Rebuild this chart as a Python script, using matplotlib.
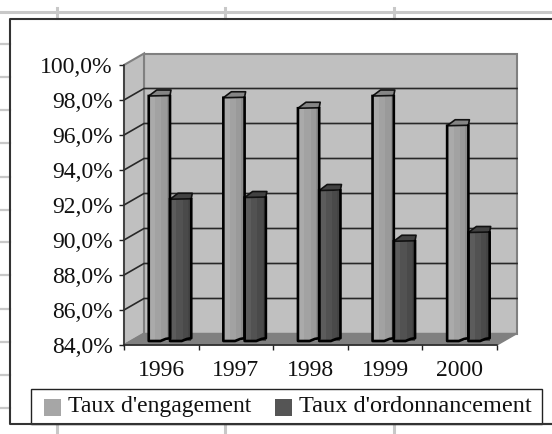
import matplotlib
matplotlib.use('Agg')
import matplotlib.pyplot as plt
from matplotlib.patches import Polygon, Rectangle
from matplotlib.transforms import Affine2D

plt.rcParams['font.family'] = ['Liberation Serif', 'DejaVu Serif']

# data
years = ['1996', '1997', '1998', '1999', '2000']
engagement = [98.0, 97.9, 97.3, 98.0, 96.3]
ordonnancement = [92.1, 92.2, 92.6, 89.7, 90.2]
yticks = [84, 86, 88, 90, 92, 94, 96, 98, 100]
ylabels = ['84,0%', '86,0%', '88,0%', '90,0%', '92,0%', '94,0%', '96,0%', '98,0%', '100,0%']

# colours: strips of each bar, then top
col_e = ['#aaaaaa', '#a2a2a2', '#9a9a9a', '#8c8c8c']
col_o = ['#5c5c5c', '#525252', '#4a4a4a', '#444444']
top_e = '#858585'
top_o = '#424242'

fs = 17

fig = plt.figure(figsize=(5.52, 4.34), dpi=100)

#==========================================
# page and frame, in pixel coordinates
#==========================================
bg = fig.add_axes([0, 0, 1, 1])
bg.set_xlim(0, 552)
bg.set_ylim(434, 0)
bg.axis('off')

grey = '#c8c8c8'
bg.plot([0, 552], [11.5, 11.5], color=grey, lw=2.2)
for x in [57, 225, 394]:
    bg.plot([x, x], [8, 18], color=grey, lw=2.2)
    bg.plot([x, x], [425, 434], color=grey, lw=2.2)
for y in [44, 77, 110, 143, 177, 210, 242, 275, 309, 342, 375, 408]:
    bg.plot([0, 10], [y, y], color=grey, lw=1.6)

bg.plot([552, 10, 10, 552], [19, 19, 424, 424], color='#333333', lw=1.5)

#==========================================
# chart
#==========================================
ax = fig.add_axes([124/552, (434-345)/434, 373/552, 280/434], facecolor='none')
ax.set_xlim(-0.5, 4.5)
ax.set_ylim(84, 100)

px_x = 74.6  # pixels per category
px_y = 17.5  # pixels per unit
dx = 20/px_x
dy = 11.5/px_y

# walls and floor
ax.add_patch(Polygon([(-0.5+dx, 84+dy), (4.5+dx, 84+dy), (4.5+dx, 100+dy), (-0.5+dx, 100+dy)],
                     fc='#c0c0c0', ec='#808080', lw=1.5, clip_on=False, zorder=1))
ax.add_patch(Polygon([(-0.5, 84), (-0.5+dx, 84+dy), (-0.5+dx, 100+dy), (-0.5, 100)],
                     fc='#c0c0c0', ec='#808080', lw=1.5, clip_on=False, zorder=1))
ax.add_patch(Polygon([(-0.5, 84), (4.5, 84), (4.5+dx, 84+dy), (-0.5+dx, 84+dy)],
                     fc='#808080', ec='#808080', lw=1, clip_on=False, zorder=1))

# grid lines
for v in yticks[1:-1]:
    ax.plot([-0.5, -0.5+dx, 4.5+dx], [v, v+dy, v+dy], color='#282828', lw=1.2,
            clip_on=False, zorder=2)

# bars
bar_tr = ax.transData + Affine2D().translate(8.7, 4)
bw = 0.285
fracs = [0.3, 0.3, 0.25, 0.15]

def draw_bar(x, v, cols, top):
    left = x-bw/2
    pos = left
    for c, f in zip(cols, fracs):
        ax.bar(pos, v-84, width=bw*f, bottom=84, align='edge', color=c, lw=0,
               transform=bar_tr, clip_on=False, zorder=3)
        pos += bw*f
    tx = 8/px_x
    ty = 6/px_y
    ax.add_patch(Polygon([(left, v), (left+tx, v+ty), (left+bw+1/px_x, v+ty), (left+bw, v+0.5/px_y)],
                         fc=top, ec='#111111', lw=1.2, joinstyle='round',
                         transform=bar_tr, clip_on=False, zorder=4))
    # outline with the small bump at the foot
    ax.plot([left, left, left+0.55*bw, left+0.8*bw, left+bw, left+bw],
            [v, 84, 84, 84.12, 84.16, v], color='black', lw=1.9,
            transform=bar_tr, clip_on=False, zorder=5)

for i in range(len(years)):
    draw_bar(i-bw/2, engagement[i], col_e, top_e)
    draw_bar(i+bw/2, ordonnancement[i], col_o, top_o)

# axes
for s in ['top', 'right']:
    ax.spines[s].set_visible(False)
ax.spines['left'].set_color('#333333')
ax.spines['bottom'].set_color('#222222')
ax.spines['left'].set_linewidth(1.1)
ax.spines['bottom'].set_linewidth(1.1)
ax.spines['left'].set_zorder(6)
ax.spines['bottom'].set_zorder(6)

ax.set_yticks(yticks)
ax.set_yticklabels(ylabels, fontsize=fs, color='#111111')
ax.set_xticks([i-0.5 for i in range(len(years)+1)], minor=False)
ax.set_xticklabels([''] * (len(years)+1))
ax.tick_params(axis='y', length=3.6, width=1, pad=4.5, color='#222222')
ax.tick_params(axis='x', length=3.6, width=1, color='#222222')
for i, yr in enumerate(years):
    ax.annotate(yr, (i, 84), xytext=(0, -26), xycoords='data', textcoords='offset pixels',
                ha='center', va='center', fontsize=fs, color='#111111', annotation_clip=False)

#==========================================
# legend
#==========================================
top_ax = fig.add_axes([0, 0, 1, 1], facecolor='none')
top_ax.set_xlim(0, 552)
top_ax.set_ylim(434, 0)
top_ax.axis('off')
top_ax.add_patch(Rectangle((31, 389), 511, 35, fc='white', ec='#222222', lw=1))
top_ax.plot([31, 552], [424, 424], color='#333333', lw=1.5)
top_ax.add_patch(Rectangle((44, 399), 17, 16.5, fc='#a6a6a6', ec='none'))
top_ax.add_patch(Rectangle((275, 399), 17, 16.5, fc='#555555', ec='none'))
top_ax.text(68, 412, "Taux d'engagement", fontsize=fs, ha='left', va='baseline', color='#111111')
top_ax.text(299, 412, "Taux d'ordonnancement", fontsize=17.5, ha='left', va='baseline', color='#111111')

plt.savefig('out.png', dpi=100)
plt.close()
